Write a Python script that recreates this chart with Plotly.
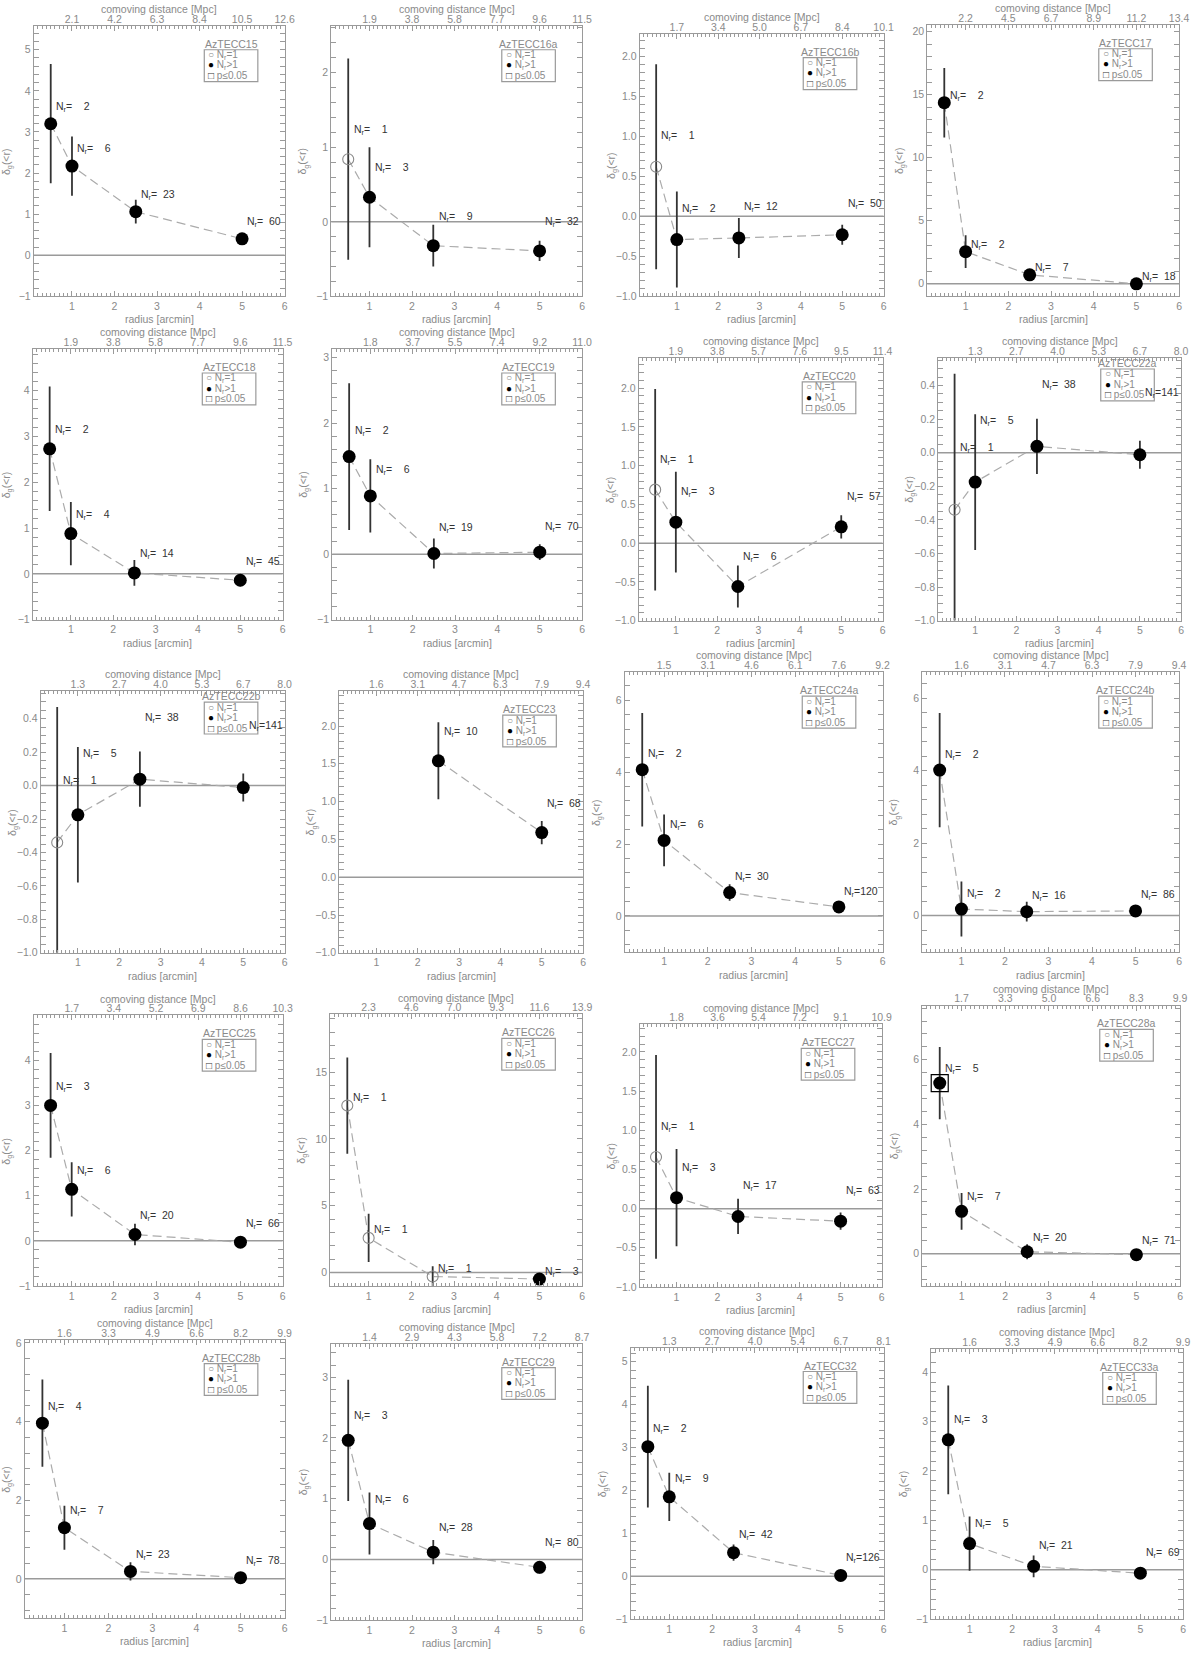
import plotly.graph_objects as go

W, H = 1200, 1654

# ---------------- data ----------------
field_names = ["AzTECC15", "AzTECC16a", "AzTECC16b", "AzTECC17",
               "AzTECC18", "AzTECC19", "AzTECC20", "AzTECC22a",
               "AzTECC22b", "AzTECC23", "AzTECC24a", "AzTECC24b",
               "AzTECC25", "AzTECC26", "AzTECC27", "AzTECC28a",
               "AzTECC28b", "AzTECC29", "AzTECC32", "AzTECC33a"]

radius_arcmin = [0.5, 1.0, 2.5, 5.0]

delta_g = [
    [3.20, 2.17, 1.06, 0.40],
    [0.84, 0.33, -0.32, -0.39],
    [0.62, -0.29, -0.27, -0.23],
    [14.36, 2.55, 0.71, 0.00],
    [2.73, 0.88, 0.02, -0.14],
    [1.49, 0.89, 0.01, 0.03],
    [0.69, 0.27, -0.56, 0.21],
    [-0.34, -0.175, 0.038, -0.012],
    [-0.34, -0.175, 0.038, -0.012],
    [None, None, 1.54, 0.59],
    [4.07, 2.10, 0.65, 0.25],
    [4.02, 0.18, 0.11, 0.13],
    [3.00, 1.14, 0.14, -0.03],
    [12.50, 2.60, -0.29, -0.48],
    [0.66, 0.14, -0.10, -0.16],
    [5.28, 1.31, 0.06, -0.03],
    [3.96, 1.30, 0.19, 0.03],
    [1.96, 0.59, 0.12, -0.13],
    [3.02, 1.85, 0.55, 0.02],
    [2.63, 0.53, 0.07, -0.07],
]

delta_err = [
    [1.45, 0.72, 0.29, 0.14],
    [1.35, 0.67, 0.28, 0.135],
    [1.28, 0.60, 0.25, 0.125],
    [2.75, 1.30, 0.42, 0.20],
    [1.36, 0.69, 0.28, 0.13],
    [1.12, 0.56, 0.23, 0.12],
    [1.30, 0.65, 0.27, 0.15],
    [0.81, 0.405, 0.165, 0.084],
    [0.81, 0.405, 0.165, 0.084],
    [None, None, 0.51, 0.155],
    [1.58, 0.72, 0.23, 0.08],
    [1.58, 0.76, 0.27, 0.08],
    [1.16, 0.60, 0.24, 0.09],
    [3.60, 1.80, 0.77, 0.15],
    [1.30, 0.62, 0.225, 0.11],
    [1.12, 0.57, 0.23, 0.08],
    [1.11, 0.56, 0.23, 0.06],
    [1.00, 0.51, 0.20, 0.10],
    [1.42, 0.56, 0.19, 0.05],
    [1.10, 0.55, 0.22, 0.08],
]

n_r = [
    [2, 6, 23, 60],
    [1, 3, 9, 32],
    [1, 2, 12, 50],
    [2, 2, 7, 18],
    [2, 4, 14, 45],
    [2, 6, 19, 70],
    [1, 3, 6, 57],
    [1, 5, 38, 141],
    [1, 5, 38, 141],
    [None, None, 10, 68],
    [2, 6, 30, 120],
    [2, 2, 16, 86],
    [3, 6, 20, 66],
    [1, 1, 1, 3],
    [1, 3, 17, 63],
    [5, 7, 20, 71],
    [4, 7, 23, 78],
    [3, 6, 28, 80],
    [2, 9, 42, 126],
    [3, 5, 21, 69],
]

significant = [[False] * 4 for _ in range(20)]
significant[15] = [True, False, False, False]

radius_ticks = [1, 2, 3, 4, 5, 6]
comoving_ticks = [
    ["2.1", "4.2", "6.3", "8.4", "10.5", "12.6"],
    ["1.9", "3.8", "5.8", "7.7", "9.6", "11.5"],
    ["1.7", "3.4", "5.0", "6.7", "8.4", "10.1"],
    ["2.2", "4.5", "6.7", "8.9", "11.2", "13.4"],
    ["1.9", "3.8", "5.8", "7.7", "9.6", "11.5"],
    ["1.8", "3.7", "5.5", "7.4", "9.2", "11.0"],
    ["1.9", "3.8", "5.7", "7.6", "9.5", "11.4"],
    ["1.3", "2.7", "4.0", "5.3", "6.7", "8.0"],
    ["1.3", "2.7", "4.0", "5.3", "6.7", "8.0"],
    ["1.6", "3.1", "4.7", "6.3", "7.9", "9.4"],
    ["1.5", "3.1", "4.6", "6.1", "7.6", "9.2"],
    ["1.6", "3.1", "4.7", "6.3", "7.9", "9.4"],
    ["1.7", "3.4", "5.2", "6.9", "8.6", "10.3"],
    ["2.3", "4.6", "7.0", "9.3", "11.6", "13.9"],
    ["1.8", "3.6", "5.4", "7.2", "9.1", "10.9"],
    ["1.7", "3.3", "5.0", "6.6", "8.3", "9.9"],
    ["1.6", "3.3", "4.9", "6.6", "8.2", "9.9"],
    ["1.4", "2.9", "4.3", "5.8", "7.2", "8.7"],
    ["1.3", "2.7", "4.0", "5.4", "6.7", "8.1"],
    ["1.6", "3.3", "4.9", "6.6", "8.2", "9.9"],
]

# ---------------- layout / style ----------------
# panel frames in pixels: (left, right, top, bottom)
frames = [
    (34, 287, 23, 295), (334, 587, 23, 295), (645, 891, 31, 295), (935, 1189, 22, 295),
    (33, 285, 348, 620), (335, 587, 348, 620), (644, 890, 357, 621), (946, 1191, 357, 621),
    (41, 287, 692, 955), (342, 588, 692, 955), (630, 890, 673, 954), (930, 1189, 673, 954),
    (34, 285, 1018, 1290), (333, 587, 1017, 1290), (645, 889, 1027, 1291), (930, 1190, 1008, 1290),
    (25, 287, 1344, 1624), (334, 587, 1348, 1626), (636, 891, 1352, 1625), (939, 1193, 1353, 1625),
]
y_dtick = [1, 1, 0.5, 5, 1, 1, 0.5, 0.2, 0.2, 0.5, 2, 2, 1, 5, 0.5, 2, 2, 1, 1, 1]
legend_drop = [24] * 20
legend_drop[7] = 11
legend_drop[8] = 11

AXIS = "#9a9a9a"
TXT = "#8a8a8a"
FONT = "Liberation Sans"
X_RANGE = [0.1, 6.0]


def px(x):
    return x / W


def py(y):
    return 1 - y / H


fig = go.Figure()
annotations = []
shapes = []
layout = dict(width=W, height=H, margin=dict(l=0, r=0, t=0, b=0),
              paper_bgcolor="white", plot_bgcolor="white", showlegend=False,
              font=dict(family=FONT, size=10, color=TXT))

for i in range(20):
    k = i + 1
    xb = "x" if k == 1 else f"x{k}"
    yb = "y" if k == 1 else f"y{k}"
    xt = f"x{k + 20}"
    L, R, T, B = frames[i]

    ys = delta_g[i]
    es = delta_err[i]
    ns = n_r[i]
    valid = [j for j in range(4) if ys[j] is not None]
    vx = [radius_arcmin[j] for j in valid]
    vy = [ys[j] for j in valid]
    ve = [es[j] for j in valid]

    top_val = max(ys[j] + es[j] for j in valid)
    yr = [-1.0, 1.2 * top_val]

    # zero line
    shapes.append(dict(type="line", xref=f"{xb} domain", yref=yb, x0=0, x1=1, y0=0, y1=0,
                       line=dict(color=AXIS, width=1.5), layer="below"))

    # dashed connecting line
    fig.add_trace(go.Scatter(x=vx, y=vy, mode="lines", xaxis=xb, yaxis=yb,
                             line=dict(color="#ababab", width=1.2, dash="9px,5px"),
                             hoverinfo="skip"))
    # error bars
    fig.add_trace(go.Scatter(x=vx, y=vy, mode="markers", xaxis=xb, yaxis=yb,
                             marker=dict(size=1, color="rgba(0,0,0,0)"),
                             error_y=dict(type="data", array=ve, visible=True,
                                          color="#333333", thickness=1.8, width=0),
                             hoverinfo="skip"))
    # filled markers (N_r > 1)
    fx = [radius_arcmin[j] for j in valid if ns[j] > 1]
    fy = [ys[j] for j in valid if ns[j] > 1]
    if fx:
        fig.add_trace(go.Scatter(x=fx, y=fy, mode="markers", xaxis=xb, yaxis=yb,
                                 marker=dict(symbol="circle", size=13, color="black"),
                                 cliponaxis=False))
    # open markers (N_r = 1)
    ox = [radius_arcmin[j] for j in valid if ns[j] == 1]
    oy = [ys[j] for j in valid if ns[j] == 1]
    if ox:
        fig.add_trace(go.Scatter(x=ox, y=oy, mode="markers", xaxis=xb, yaxis=yb,
                                 marker=dict(symbol="circle-open", size=11, color="#8a8a8a",
                                             line=dict(width=1.1, color="#8a8a8a")),
                                 cliponaxis=False))
    # significance squares
    sx = [radius_arcmin[j] for j in valid if significant[i][j]]
    sy = [ys[j] for j in valid if significant[i][j]]
    if sx:
        fig.add_trace(go.Scatter(x=sx, y=sy, mode="markers", xaxis=xb, yaxis=yb,
                                 marker=dict(symbol="square-open", size=17, color="black",
                                             line=dict(width=1.2, color="black")),
                                 cliponaxis=False))

    # N_r labels
    off = 0.35 + 0.01 * (yr[1] - yr[0])
    for j in valid:
        num = f"{ns[j]:>3}".replace(" ", "\u2007")
        txt = "N<sub>r</sub>=" + num
        annotations.append(dict(xref=xb, yref=yb, x=radius_arcmin[j] + 0.08, y=ys[j] + off,
                                text=txt, showarrow=False, xanchor="left", yanchor="middle",
                                font=dict(size=10.5, color="#333333", family=FONT)))

    dt = y_dtick[i]
    fmt = ".1f" if dt < 1 else "d"
    minor_dt = dt / 4 if abs(dt - 0.2) < 1e-9 else dt / 5

    layout["xaxis" if k == 1 else f"xaxis{k}"] = dict(
        domain=[px(L), px(R)], anchor=yb, range=X_RANGE,
        tickmode="array", tickvals=radius_ticks,
        ticks="inside", ticklen=5, tickcolor=AXIS, tickwidth=1,
        showline=True, linecolor=AXIS, linewidth=1, mirror="allticks",
        showgrid=False, zeroline=False,
        tickfont=dict(size=10.5, color=TXT, family=FONT),
        minor=dict(ticks="inside", ticklen=3, dtick=0.1, tick0=0, tickcolor=AXIS,
                   tickwidth=1, showgrid=False),
    )
    layout[f"xaxis{k + 20}"] = dict(
        overlaying=xb, anchor=yb, side="top", range=X_RANGE,
        tickmode="array", tickvals=radius_ticks, ticktext=comoving_ticks[i],
        ticks="", showline=False, showgrid=False, zeroline=False,
        tickfont=dict(size=10.5, color=TXT, family=FONT),
    )
    layout["yaxis" if k == 1 else f"yaxis{k}"] = dict(
        domain=[py(B), py(T)], anchor=xb, range=yr,
        tick0=0, dtick=dt, tickformat=fmt,
        ticks="inside", ticklen=5, tickcolor=AXIS, tickwidth=1,
        showline=True, linecolor=AXIS, linewidth=1, mirror="allticks",
        showgrid=False, zeroline=False,
        tickfont=dict(size=10.5, color=TXT, family=FONT),
        minor=dict(ticks="inside", ticklen=3, dtick=minor_dt, tick0=0, tickcolor=AXIS,
                   tickwidth=1, showgrid=False),
    )
    # dummy trace so the top axis is drawn
    fig.add_trace(go.Scatter(x=[None], y=[None], xaxis=xt, yaxis=yb, mode="markers",
                             hoverinfo="skip"))

    # axis titles
    annotations.append(dict(xref="paper", yref="paper", x=px((L + R) / 2), y=py(B + 23),
                            text="radius [arcmin]", showarrow=False,
                            xanchor="center", yanchor="middle",
                            font=dict(size=10.5, color=TXT, family=FONT)))
    annotations.append(dict(xref="paper", yref="paper", x=px((L + R) / 2), y=py(T - 17),
                            text="comoving distance [Mpc]", showarrow=False,
                            xanchor="center", yanchor="middle",
                            font=dict(size=10.5, color=TXT, family=FONT)))
    annotations.append(dict(xref="paper", yref="paper", x=px(max(L - 28, 7)), y=py((T + B) / 2),
                            text="δ<sub>g</sub>(&lt;r)", showarrow=False, textangle=-90,
                            xanchor="center", yanchor="middle",
                            font=dict(size=10.5, color=TXT, family=FONT)))

    # legend box
    br = R - 27
    bl = br - 54
    bt = T + legend_drop[i]
    bb = bt + 32
    shapes.append(dict(type="rect", xref="paper", yref="paper",
                       x0=px(bl), x1=px(br), y0=py(bb), y1=py(bt),
                       line=dict(color=AXIS, width=1.2), fillcolor="rgba(0,0,0,0)"))
    annotations.append(dict(xref="paper", yref="paper", x=px((bl + br) / 2), y=py(bt - 6),
                            text=field_names[i], showarrow=False,
                            xanchor="center", yanchor="middle",
                            font=dict(size=10.5, color=TXT, family=FONT)))
    leg_lines = [
        "<span style='color:#8a8a8a'>○</span> N<sub>r</sub>=1",
        "<span style='color:black'>●</span> N<sub>r</sub>&gt;1",
        "<span style='color:#333333'>□</span> p≤0.05",
    ]
    for m, t in enumerate(leg_lines):
        annotations.append(dict(xref="paper", yref="paper", x=px(bl + 2), y=py(bt + 5.5 + 10.3 * m),
                                text=t, showarrow=False, xanchor="left", yanchor="middle",
                                font=dict(size=10, color=TXT, family=FONT)))

layout["annotations"] = annotations
layout["shapes"] = shapes
fig.update_layout(**layout)
fig.write_html("out.html", config={"displayModeBar": False},
               post_script="document.body.style.margin='0px';")
